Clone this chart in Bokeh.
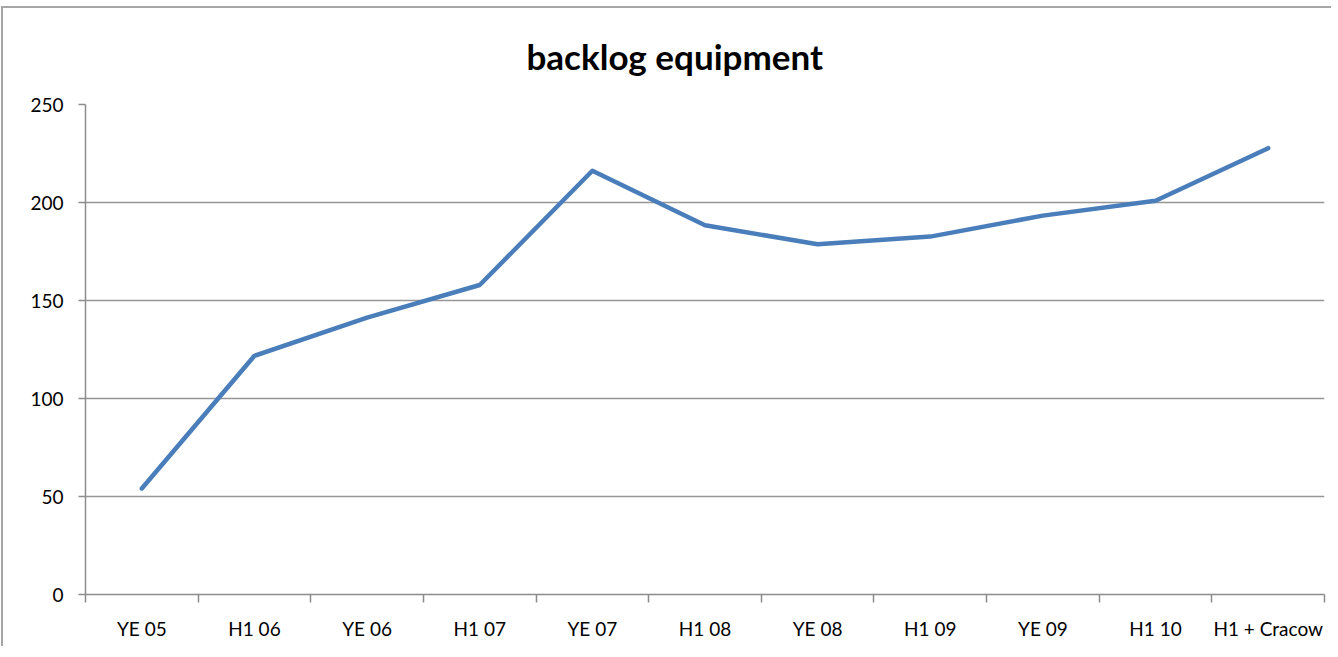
from bokeh.plotting import figure
from bokeh.models import FixedTicker, Range1d, Title
from bokeh.embed import file_html
from bokeh.resources import INLINE

categories = ["YE 05", "H1 06", "YE 06", "H1 07", "YE 07", "H1 08",
              "YE 08", "H1 09", "YE 09", "H1 10", "H1 + Cracow"]
backlog = [54.1, 121.8, 141.3, 157.9, 216.2, 188.4, 178.7, 182.6, 193.3, 200.9, 227.7]
y_ticks = [0, 50, 100, 150, 200, 250]

n = len(categories)
xs = [i + 0.5 for i in range(n)]

p = figure(width=1330, height=640, output_backend="svg", toolbar_location=None,
           x_range=Range1d(0, n), y_range=Range1d(0, 250),
           min_border_left=82, min_border_right=9, min_border_top=96, min_border_bottom=54,
           margin=(6, 0, 0, 1))
p.styles = {"border-top": "2px solid #a6a6a6", "border-left": "2px solid #a6a6a6"}

p.outline_line_color = None
p.background_fill_color = "white"
p.border_fill_color = "white"

t = Title(text="backlog equipment", text_font="Lato", text_font_size="35px",
          text_font_style="bold", text_color="black", align="left", offset=441,
          vertical_align="top", standoff=52)
p.add_layout(t, "above")

p.line(xs, backlog, line_color="#4a7ebb", line_width=4.5,
       line_cap="round", line_join="round")

# x axis
p.xaxis.ticker = FixedTicker(ticks=xs, minor_ticks=list(range(n + 1)))
p.xaxis.major_label_overrides = {x: c for x, c in zip(xs, categories)}
p.xaxis.major_tick_out = 8
p.xaxis.major_tick_in = 0
p.xaxis.major_tick_line_color = None
p.xaxis.minor_tick_out = 8
p.xaxis.minor_tick_in = 0
p.xaxis.minor_tick_line_color = "#8c8c8c"
p.xaxis.minor_tick_line_width = 1.5
p.xaxis.axis_line_color = "#8c8c8c"
p.xaxis.axis_line_width = 1.5
p.xaxis.major_label_text_font = "Lato"
p.xaxis.major_label_text_font_size = "19px"
p.xaxis.major_label_text_color = "black"
p.xaxis.major_label_standoff = 14

# y axis
p.yaxis.ticker = FixedTicker(ticks=y_ticks)
p.yaxis.minor_tick_line_color = None
p.yaxis.major_tick_out = 7
p.yaxis.major_tick_in = 0
p.yaxis.major_tick_line_color = "#8c8c8c"
p.yaxis.major_tick_line_width = 1.5
p.yaxis.axis_line_color = "#8c8c8c"
p.yaxis.axis_line_width = 1.5
p.yaxis.major_label_text_font = "Lato"
p.yaxis.major_label_text_font_size = "19px"
p.yaxis.major_label_text_color = "black"
p.yaxis.major_label_standoff = 15

p.xgrid.grid_line_color = None
p.ygrid.grid_line_color = "#969696"
p.ygrid.grid_line_width = 1.5

open("out.html", "w").write(file_html(p, INLINE))
